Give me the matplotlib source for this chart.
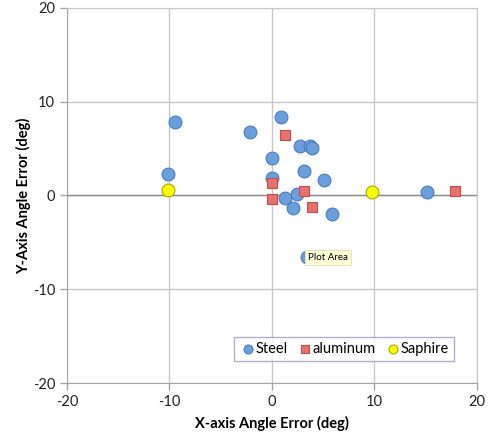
import matplotlib.pyplot as plt

# angle errors in degrees, one list per sample material
steel_x = [-9.5, -10.1, -2.1, 0.9, 0.0, 0.0, 2.7, 3.7, 3.9, 3.1, 5.1, 1.3, 2.5, 2.1, 5.9, 3.4, 15.1]
steel_y = [7.8, 2.3, 6.8, 8.4, 4.0, 1.9, 5.3, 5.3, 5.1, 2.6, 1.6, -0.3, 0.2, -1.3, -2.0, -6.6, 0.4]
alu_x = [1.3, 0.0, 0.0, 3.1, 3.9, 17.9]
alu_y = [6.4, 1.3, -0.4, 0.5, -1.2, 0.5]
saph_x = [-10.1, 9.8]
saph_y = [0.6, 0.4]

ticks = [-20, -10, 0, 10, 20]

plt.rcParams["font.family"] = ["Lato", "DejaVu Sans"]
plt.rcParams["axes.unicode_minus"] = False

fig = plt.figure(figsize=(4.89, 4.43), dpi=100)
ax = fig.add_axes([0.137, 0.1354, 0.838, 0.8466])

ax.set_xlim(-20, 20)
ax.set_ylim(-20, 20)
ax.set_xticks(ticks)
ax.set_yticks(ticks)
ax.grid(True, color="#c8c8c8", linewidth=1.0)
ax.set_axisbelow(True)
ax.axhline(0, color="#8c8c8c", linewidth=1.0, zorder=1)

for side in ["top", "right"]:
    ax.spines[side].set_color("#c8c8c8")
for side in ["left", "bottom"]:
    ax.spines[side].set_color("#a6a6a6")
ax.tick_params(axis="both", colors="#a6a6a6", labelcolor="#222222",
               length=5, width=1, labelsize=10.5)

ax.scatter(steel_x, steel_y, s=85, marker="o", color="#6b9fdc",
           edgecolor="#4a7ebb", linewidth=0.8, label="Steel", zorder=3)
ax.scatter(alu_x, alu_y, s=60, marker="s", color="#e8706e",
           edgecolor="#c0504d", linewidth=0.8, label="aluminum", zorder=3)
ax.scatter(saph_x, saph_y, s=85, marker="o", color="#ffff00",
           edgecolor="#a8a800", linewidth=0.8, label="Saphire", zorder=3)

ax.text(3.5, -6.6, "Plot Area", fontsize=7, va="center", ha="left", zorder=5,
        bbox=dict(boxstyle="square,pad=0.3", facecolor="#ffffd8",
                  edgecolor="#e0e0b0", linewidth=0.6))

leg = ax.legend(loc="lower right", bbox_to_anchor=(0.944, 0.059), ncol=3,
                frameon=True, fancybox=False, fontsize=10.5, handletextpad=-0.1,
                columnspacing=0.6, borderpad=0.35, borderaxespad=0.0,
                markerscale=0.7, handlelength=1.2)
leg.get_frame().set_edgecolor("#a09ac0")
leg.get_frame().set_linewidth(1.0)

ax.set_xlabel("X-axis Angle Error (deg)", fontsize=10.5, fontweight="bold", labelpad=5)
ax.set_ylabel("Y-Axis Angle Error (deg)", fontsize=10.5, fontweight="bold", labelpad=1)

fig.savefig("out.png", dpi=100)
